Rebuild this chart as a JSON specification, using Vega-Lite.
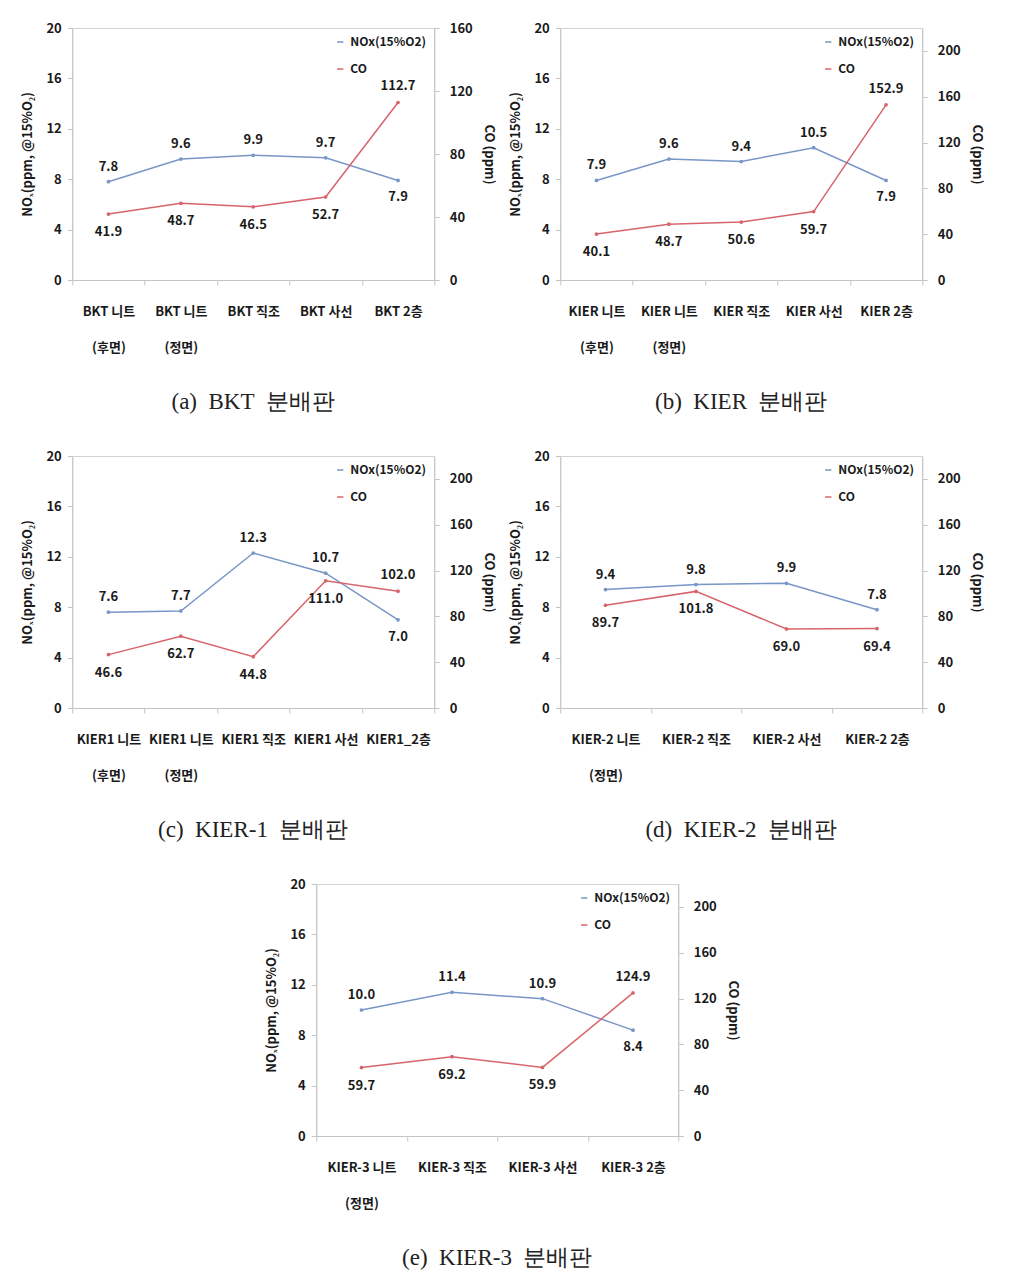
{
  "$schema": "https://vega.github.io/schema/vega-lite/v6.json",
  "background": "white",
  "padding": {"left": 21, "top": 21, "right": 5, "bottom": 5},
  "config": {
    "view": {"stroke": "#d4d4d4", "strokeWidth": 1},
    "font": "Noto Sans CJK KR",
    "axis": {"domainColor": "#c4c4c4", "tickColor": "#c4c4c4", "tickSize": 5, "labelColor": "#1a1a1a", "labelFont": "Noto Sans CJK KR", "labelFontSize": 13, "labelFontWeight": "bold", "titleFont": "Noto Sans CJK KR", "titleFontSize": 13, "titleFontWeight": "bold", "titleColor": "#1a1a1a", "grid": false},
    "legend": {"orient": "top-right", "offset": 8, "labelFont": "Noto Sans CJK KR", "labelFontSize": 12, "labelFontWeight": "bold", "labelColor": "#1a1a1a", "symbolType": "stroke", "symbolSize": 40, "symbolStrokeWidth": 1.5, "rowPadding": 15, "title": null, "padding": 0},
    "title": {"font": "Liberation Serif", "fontSize": 23, "fontWeight": "normal", "color": "#222222", "orient": "bottom", "offset": 37},
    "text": {"font": "Noto Sans CJK KR", "fontSize": 13, "fontWeight": "bold", "color": "#1a1a1a", "baseline": "middle"},
    "line": {"strokeWidth": 1.5},
    "concat": {"spacing": 14}
  },
  "resolve": {"scale": {"color": "independent", "y": "independent", "x": "independent"}, "legend": {"color": "independent"}, "axis": {"y": "independent", "x": "independent"}},
  "spacing": 34,
  "center": true,
  "vconcat": [
    {
      "hconcat": [
        {
          "title": {"text": "(a)\u00a0 BKT\u00a0 분배판"},
          "width": 362, "height": 252,
          "data": {"values": [
            {"cat": "BKT 니트|(후면)", "nox": 7.8, "co": 41.9},
            {"cat": "BKT 니트|(정면)", "nox": 9.6, "co": 48.7},
            {"cat": "BKT 직조", "nox": 9.9, "co": 46.5},
            {"cat": "BKT 사선", "nox": 9.7, "co": 52.7},
            {"cat": "BKT 2층", "nox": 7.9, "co": 112.7}
          ]},
          "encoding": {"x": {"field": "cat", "type": "nominal", "sort": null, "scale": {"paddingInner": 0, "paddingOuter": 0}, "axis": {"title": null, "labelAngle": 0, "labelExpr": "datum.value ? split(datum.value, '|') : ''", "tickBand": "extent", "labelPadding": 20, "labelLineHeight": 36, "labelBaseline": "top"}}},
          "layer": [
            {
              "encoding": {"y": {"field": "nox", "type": "quantitative", "scale": {"domain": [0, 20]}, "axis": {"orient": "left", "values": [0, 4, 8, 12, 16, 20], "title": "NOₓ(ppm, @15%O₂)", "titlePadding": 11, "labelPadding": 6}}},
              "layer": [
                {"mark": {"type": "line"}, "encoding": {"color": {"datum": "NOx(15%O2)", "type": "nominal", "scale": {"domain": ["NOx(15%O2)", "CO"], "range": ["#7896c6", "#d8646b"]}}}},
                {"mark": {"type": "point", "filled": true, "size": 14, "color": "#7896c6", "opacity": 1}},
                {"transform": [{"filter": "datum.nox/20 >= datum.co/160"}], "mark": {"type": "text", "dy": -15}, "encoding": {"text": {"field": "nox", "type": "quantitative", "format": ".1f"}}},
                {"transform": [{"filter": "datum.nox/20 < datum.co/160"}], "mark": {"type": "text", "dy": 17}, "encoding": {"text": {"field": "nox", "type": "quantitative", "format": ".1f"}}}
              ]
            },
            {
              "encoding": {"y": {"field": "co", "type": "quantitative", "scale": {"domain": [0, 160]}, "axis": {"orient": "right", "values": [0, 40, 80, 120, 160], "title": "CO (ppm)", "titlePadding": 9, "labelPadding": 10}}},
              "layer": [
                {"mark": {"type": "line"}, "encoding": {"color": {"datum": "CO", "type": "nominal", "scale": {"domain": ["NOx(15%O2)", "CO"], "range": ["#7896c6", "#d8646b"]}}}},
                {"mark": {"type": "point", "filled": true, "size": 14, "color": "#d8646b", "opacity": 1}},
                {"transform": [{"filter": "datum.nox/20 >= datum.co/160"}], "mark": {"type": "text", "dy": 18}, "encoding": {"text": {"field": "co", "type": "quantitative", "format": ".1f"}}},
                {"transform": [{"filter": "datum.nox/20 < datum.co/160"}], "mark": {"type": "text", "dy": -16}, "encoding": {"text": {"field": "co", "type": "quantitative", "format": ".1f"}}}
              ]
            }
          ],
          "resolve": {"scale": {"y": "independent"}}
        },
        {
          "title": {"text": "(b)\u00a0 KIER\u00a0 분배판"},
          "width": 362, "height": 252,
          "data": {"values": [
            {"cat": "KIER 니트|(후면)", "nox": 7.9, "co": 40.1},
            {"cat": "KIER 니트|(정면)", "nox": 9.6, "co": 48.7},
            {"cat": "KIER 직조", "nox": 9.4, "co": 50.6},
            {"cat": "KIER 사선", "nox": 10.5, "co": 59.7},
            {"cat": "KIER 2층", "nox": 7.9, "co": 152.9}
          ]},
          "encoding": {"x": {"field": "cat", "type": "nominal", "sort": null, "scale": {"paddingInner": 0, "paddingOuter": 0}, "axis": {"title": null, "labelAngle": 0, "labelExpr": "datum.value ? split(datum.value, '|') : ''", "tickBand": "extent", "labelPadding": 20, "labelLineHeight": 36, "labelBaseline": "top"}}},
          "layer": [
            {
              "encoding": {"y": {"field": "nox", "type": "quantitative", "scale": {"domain": [0, 20]}, "axis": {"orient": "left", "values": [0, 4, 8, 12, 16, 20], "title": "NOₓ(ppm, @15%O₂)", "titlePadding": 11, "labelPadding": 6}}},
              "layer": [
                {"mark": {"type": "line"}, "encoding": {"color": {"datum": "NOx(15%O2)", "type": "nominal", "scale": {"domain": ["NOx(15%O2)", "CO"], "range": ["#7896c6", "#d8646b"]}}}},
                {"mark": {"type": "point", "filled": true, "size": 14, "color": "#7896c6", "opacity": 1}},
                {"transform": [{"filter": "datum.nox/20 >= datum.co/220"}], "mark": {"type": "text", "dy": -15}, "encoding": {"text": {"field": "nox", "type": "quantitative", "format": ".1f"}}},
                {"transform": [{"filter": "datum.nox/20 < datum.co/220"}], "mark": {"type": "text", "dy": 17}, "encoding": {"text": {"field": "nox", "type": "quantitative", "format": ".1f"}}}
              ]
            },
            {
              "encoding": {"y": {"field": "co", "type": "quantitative", "scale": {"domain": [0, 220]}, "axis": {"orient": "right", "values": [0, 40, 80, 120, 160, 200], "title": "CO (ppm)", "titlePadding": 9, "labelPadding": 10}}},
              "layer": [
                {"mark": {"type": "line"}, "encoding": {"color": {"datum": "CO", "type": "nominal", "scale": {"domain": ["NOx(15%O2)", "CO"], "range": ["#7896c6", "#d8646b"]}}}},
                {"mark": {"type": "point", "filled": true, "size": 14, "color": "#d8646b", "opacity": 1}},
                {"transform": [{"filter": "datum.nox/20 >= datum.co/220"}], "mark": {"type": "text", "dy": 18}, "encoding": {"text": {"field": "co", "type": "quantitative", "format": ".1f"}}},
                {"transform": [{"filter": "datum.nox/20 < datum.co/220"}], "mark": {"type": "text", "dy": -16}, "encoding": {"text": {"field": "co", "type": "quantitative", "format": ".1f"}}}
              ]
            }
          ],
          "resolve": {"scale": {"y": "independent"}}
        }
      ],
      "resolve": {"scale": {"color": "independent", "y": "independent", "x": "independent"}, "legend": {"color": "independent"}}
    },
    {
      "hconcat": [
        {
          "title": {"text": "(c)\u00a0 KIER-1\u00a0 분배판"},
          "width": 362, "height": 252,
          "data": {"values": [
            {"cat": "KIER1 니트|(후면)", "nox": 7.6, "co": 46.6},
            {"cat": "KIER1 니트|(정면)", "nox": 7.7, "co": 62.7},
            {"cat": "KIER1 직조", "nox": 12.3, "co": 44.8},
            {"cat": "KIER1 사선", "nox": 10.7, "co": 111.0},
            {"cat": "KIER1_2층", "nox": 7.0, "co": 102.0}
          ]},
          "encoding": {"x": {"field": "cat", "type": "nominal", "sort": null, "scale": {"paddingInner": 0, "paddingOuter": 0}, "axis": {"title": null, "labelAngle": 0, "labelExpr": "datum.value ? split(datum.value, '|') : ''", "tickBand": "extent", "labelPadding": 20, "labelLineHeight": 36, "labelBaseline": "top"}}},
          "layer": [
            {
              "encoding": {"y": {"field": "nox", "type": "quantitative", "scale": {"domain": [0, 20]}, "axis": {"orient": "left", "values": [0, 4, 8, 12, 16, 20], "title": "NOₓ(ppm, @15%O₂)", "titlePadding": 11, "labelPadding": 6}}},
              "layer": [
                {"mark": {"type": "line"}, "encoding": {"color": {"datum": "NOx(15%O2)", "type": "nominal", "scale": {"domain": ["NOx(15%O2)", "CO"], "range": ["#7896c6", "#d8646b"]}}}},
                {"mark": {"type": "point", "filled": true, "size": 14, "color": "#7896c6", "opacity": 1}},
                {"transform": [{"filter": "datum.nox/20 >= datum.co/220"}], "mark": {"type": "text", "dy": -15}, "encoding": {"text": {"field": "nox", "type": "quantitative", "format": ".1f"}}},
                {"transform": [{"filter": "datum.nox/20 < datum.co/220"}], "mark": {"type": "text", "dy": 17}, "encoding": {"text": {"field": "nox", "type": "quantitative", "format": ".1f"}}}
              ]
            },
            {
              "encoding": {"y": {"field": "co", "type": "quantitative", "scale": {"domain": [0, 220]}, "axis": {"orient": "right", "values": [0, 40, 80, 120, 160, 200], "title": "CO (ppm)", "titlePadding": 9, "labelPadding": 10}}},
              "layer": [
                {"mark": {"type": "line"}, "encoding": {"color": {"datum": "CO", "type": "nominal", "scale": {"domain": ["NOx(15%O2)", "CO"], "range": ["#7896c6", "#d8646b"]}}}},
                {"mark": {"type": "point", "filled": true, "size": 14, "color": "#d8646b", "opacity": 1}},
                {"transform": [{"filter": "datum.nox/20 >= datum.co/220"}], "mark": {"type": "text", "dy": 18}, "encoding": {"text": {"field": "co", "type": "quantitative", "format": ".1f"}}},
                {"transform": [{"filter": "datum.nox/20 < datum.co/220"}], "mark": {"type": "text", "dy": -16}, "encoding": {"text": {"field": "co", "type": "quantitative", "format": ".1f"}}}
              ]
            }
          ],
          "resolve": {"scale": {"y": "independent"}}
        },
        {
          "title": {"text": "(d)\u00a0 KIER-2\u00a0 분배판"},
          "width": 362, "height": 252,
          "data": {"values": [
            {"cat": "KIER-2 니트|(정면)", "nox": 9.4, "co": 89.7},
            {"cat": "KIER-2 직조", "nox": 9.8, "co": 101.8},
            {"cat": "KIER-2 사선", "nox": 9.9, "co": 69.0},
            {"cat": "KIER-2 2층", "nox": 7.8, "co": 69.4}
          ]},
          "encoding": {"x": {"field": "cat", "type": "nominal", "sort": null, "scale": {"paddingInner": 0, "paddingOuter": 0}, "axis": {"title": null, "labelAngle": 0, "labelExpr": "datum.value ? split(datum.value, '|') : ''", "tickBand": "extent", "labelPadding": 20, "labelLineHeight": 36, "labelBaseline": "top"}}},
          "layer": [
            {
              "encoding": {"y": {"field": "nox", "type": "quantitative", "scale": {"domain": [0, 20]}, "axis": {"orient": "left", "values": [0, 4, 8, 12, 16, 20], "title": "NOₓ(ppm, @15%O₂)", "titlePadding": 11, "labelPadding": 6}}},
              "layer": [
                {"mark": {"type": "line"}, "encoding": {"color": {"datum": "NOx(15%O2)", "type": "nominal", "scale": {"domain": ["NOx(15%O2)", "CO"], "range": ["#7896c6", "#d8646b"]}}}},
                {"mark": {"type": "point", "filled": true, "size": 14, "color": "#7896c6", "opacity": 1}},
                {"transform": [{"filter": "datum.nox/20 >= datum.co/220"}], "mark": {"type": "text", "dy": -15}, "encoding": {"text": {"field": "nox", "type": "quantitative", "format": ".1f"}}},
                {"transform": [{"filter": "datum.nox/20 < datum.co/220"}], "mark": {"type": "text", "dy": 17}, "encoding": {"text": {"field": "nox", "type": "quantitative", "format": ".1f"}}}
              ]
            },
            {
              "encoding": {"y": {"field": "co", "type": "quantitative", "scale": {"domain": [0, 220]}, "axis": {"orient": "right", "values": [0, 40, 80, 120, 160, 200], "title": "CO (ppm)", "titlePadding": 9, "labelPadding": 10}}},
              "layer": [
                {"mark": {"type": "line"}, "encoding": {"color": {"datum": "CO", "type": "nominal", "scale": {"domain": ["NOx(15%O2)", "CO"], "range": ["#7896c6", "#d8646b"]}}}},
                {"mark": {"type": "point", "filled": true, "size": 14, "color": "#d8646b", "opacity": 1}},
                {"transform": [{"filter": "datum.nox/20 >= datum.co/220"}], "mark": {"type": "text", "dy": 18}, "encoding": {"text": {"field": "co", "type": "quantitative", "format": ".1f"}}},
                {"transform": [{"filter": "datum.nox/20 < datum.co/220"}], "mark": {"type": "text", "dy": -16}, "encoding": {"text": {"field": "co", "type": "quantitative", "format": ".1f"}}}
              ]
            }
          ],
          "resolve": {"scale": {"y": "independent"}}
        }
      ],
      "resolve": {"scale": {"color": "independent", "y": "independent", "x": "independent"}, "legend": {"color": "independent"}}
    },
    {
      "title": {"text": "(e)\u00a0 KIER-3\u00a0 분배판"},
      "width": 362, "height": 252,
      "data": {"values": [
        {"cat": "KIER-3 니트|(정면)", "nox": 10.0, "co": 59.7},
        {"cat": "KIER-3 직조", "nox": 11.4, "co": 69.2},
        {"cat": "KIER-3 사선", "nox": 10.9, "co": 59.9},
        {"cat": "KIER-3 2층", "nox": 8.4, "co": 124.9}
      ]},
      "encoding": {"x": {"field": "cat", "type": "nominal", "sort": null, "scale": {"paddingInner": 0, "paddingOuter": 0}, "axis": {"title": null, "labelAngle": 0, "labelExpr": "datum.value ? split(datum.value, '|') : ''", "tickBand": "extent", "labelPadding": 20, "labelLineHeight": 36, "labelBaseline": "top"}}},
      "layer": [
        {
          "encoding": {"y": {"field": "nox", "type": "quantitative", "scale": {"domain": [0, 20]}, "axis": {"orient": "left", "values": [0, 4, 8, 12, 16, 20], "title": "NOₓ(ppm, @15%O₂)", "titlePadding": 11, "labelPadding": 6}}},
          "layer": [
            {"mark": {"type": "line"}, "encoding": {"color": {"datum": "NOx(15%O2)", "type": "nominal", "scale": {"domain": ["NOx(15%O2)", "CO"], "range": ["#7896c6", "#d8646b"]}}}},
            {"mark": {"type": "point", "filled": true, "size": 14, "color": "#7896c6", "opacity": 1}},
            {"transform": [{"filter": "datum.nox/20 >= datum.co/220"}], "mark": {"type": "text", "dy": -15}, "encoding": {"text": {"field": "nox", "type": "quantitative", "format": ".1f"}}},
            {"transform": [{"filter": "datum.nox/20 < datum.co/220"}], "mark": {"type": "text", "dy": 17}, "encoding": {"text": {"field": "nox", "type": "quantitative", "format": ".1f"}}}
          ]
        },
        {
          "encoding": {"y": {"field": "co", "type": "quantitative", "scale": {"domain": [0, 220]}, "axis": {"orient": "right", "values": [0, 40, 80, 120, 160, 200], "title": "CO (ppm)", "titlePadding": 9, "labelPadding": 10}}},
          "layer": [
            {"mark": {"type": "line"}, "encoding": {"color": {"datum": "CO", "type": "nominal", "scale": {"domain": ["NOx(15%O2)", "CO"], "range": ["#7896c6", "#d8646b"]}}}},
            {"mark": {"type": "point", "filled": true, "size": 14, "color": "#d8646b", "opacity": 1}},
            {"transform": [{"filter": "datum.nox/20 >= datum.co/220"}], "mark": {"type": "text", "dy": 18}, "encoding": {"text": {"field": "co", "type": "quantitative", "format": ".1f"}}},
            {"transform": [{"filter": "datum.nox/20 < datum.co/220"}], "mark": {"type": "text", "dy": -16}, "encoding": {"text": {"field": "co", "type": "quantitative", "format": ".1f"}}}
          ]
        }
      ],
      "resolve": {"scale": {"y": "independent"}}
    }
  ]
}
